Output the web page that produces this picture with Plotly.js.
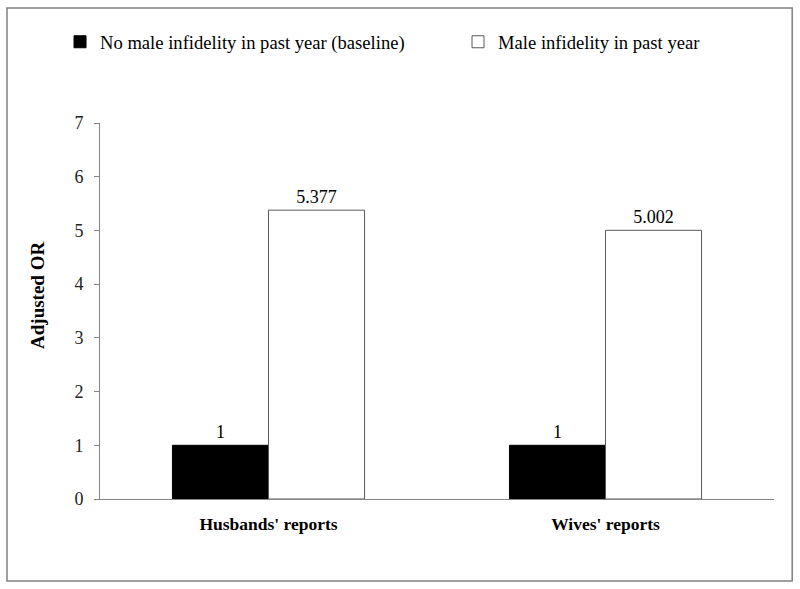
<!DOCTYPE html>
<html>
<head>
<meta charset="utf-8">
<script src="https://cdn.plot.ly/plotly-3.0.1.min.js"></script>
<style>
html,body{margin:0;padding:0;background:#fff;}
#chart{width:800px;height:589px;}
</style>
</head>
<body>
<div id="chart"></div>
<script>
const categories = ["Husbands' reports", "Wives' reports"];
const seriesNames = ["No male infidelity in past year (baseline)", "Male infidelity in past year"];
const baselineValues = [1, 1];
const infidelityValues = [5.377, 5.002];
const baselineLabels = ["1", "1"];
const infidelityLabels = ["5.377", "5.002"];
const yTickValues = [0, 1, 2, 3, 4, 5, 6, 7];
const yTitle = 'Adjusted OR';

const serif = "Liberation Serif, Times New Roman, serif";

const traces = [
  {
    type: 'bar',
    name: seriesNames[0],
    legend: 'legend',
    x: categories,
    y: baselineValues,
    text: baselineLabels,
    textposition: 'outside',
    textfont: {family: serif, size: 18, color: '#000'},
    cliponaxis: false,
    marker: {color: '#000000', line: {color: '#000000', width: 1}},
    hoverinfo: 'none'
  },
  {
    type: 'bar',
    name: seriesNames[1],
    legend: 'legend2',
    x: categories,
    y: infidelityValues,
    text: infidelityLabels,
    textposition: 'outside',
    textfont: {family: serif, size: 18, color: '#000'},
    cliponaxis: false,
    marker: {color: '#ffffff', line: {color: '#595959', width: 1}},
    hoverinfo: 'none'
  }
];

const legendBase = {
  orientation: 'h',
  xanchor: 'left',
  y: 1.215,
  yanchor: 'middle',
  font: {family: serif, size: 18.6, color: '#000'},
  indentation: -12,
  itemclick: false,
  itemdoubleclick: false,
  bgcolor: 'rgba(0,0,0,0)'
};

const layout = {
  width: 800,
  height: 589,
  margin: {l: 100, r: 26, t: 123, b: 90},
  paper_bgcolor: '#ffffff',
  plot_bgcolor: '#ffffff',
  font: {family: serif, size: 18, color: '#000'},
  barmode: 'group',
  bargap: 0.43,
  bargroupgap: 0,
  showlegend: true,
  legend: Object.assign({}, legendBase, {x: -0.0415}),
  legend2: Object.assign({}, legendBase, {x: 0.549}),
  xaxis: {
    type: 'category',
    showline: true,
    linecolor: '#868686',
    linewidth: 1,
    ticks: '',
    showgrid: false,
    zeroline: false,
    tickfont: {family: serif, size: 17.5, color: '#000', weight: 'bold'},
    ticklabelstandoff: 9
  },
  yaxis: {
    range: [0, 7],
    tickvals: yTickValues,
    ticktext: yTickValues.map(String),
    showline: true,
    linecolor: '#868686',
    linewidth: 1,
    ticks: 'outside',
    ticklen: 5,
    tickcolor: '#868686',
    showgrid: false,
    zeroline: false,
    tickfont: {family: serif, size: 18, color: '#222'},
    ticklabelstandoff: 7
  },
  annotations: [
    {text: yTitle, xref: 'paper', yref: 'paper', x: -0.092, y: 0.5426,
     xanchor: 'center', yanchor: 'middle', textangle: -90, showarrow: false,
     font: {family: serif, size: 19, color: '#000', weight: 'bold'}}
  ],
  shapes: [
    {type: 'rect', xref: 'paper', yref: 'paper',
     x0: -0.138, x1: 1.027, y0: -0.218, y1: 1.306,
     line: {color: '#808080', width: 1.5}, fillcolor: 'rgba(0,0,0,0)', layer: 'below'}
  ]
};

Plotly.newPlot('chart', traces, layout, {displayModeBar: false, staticPlot: true});
</script>
</body>
</html>
